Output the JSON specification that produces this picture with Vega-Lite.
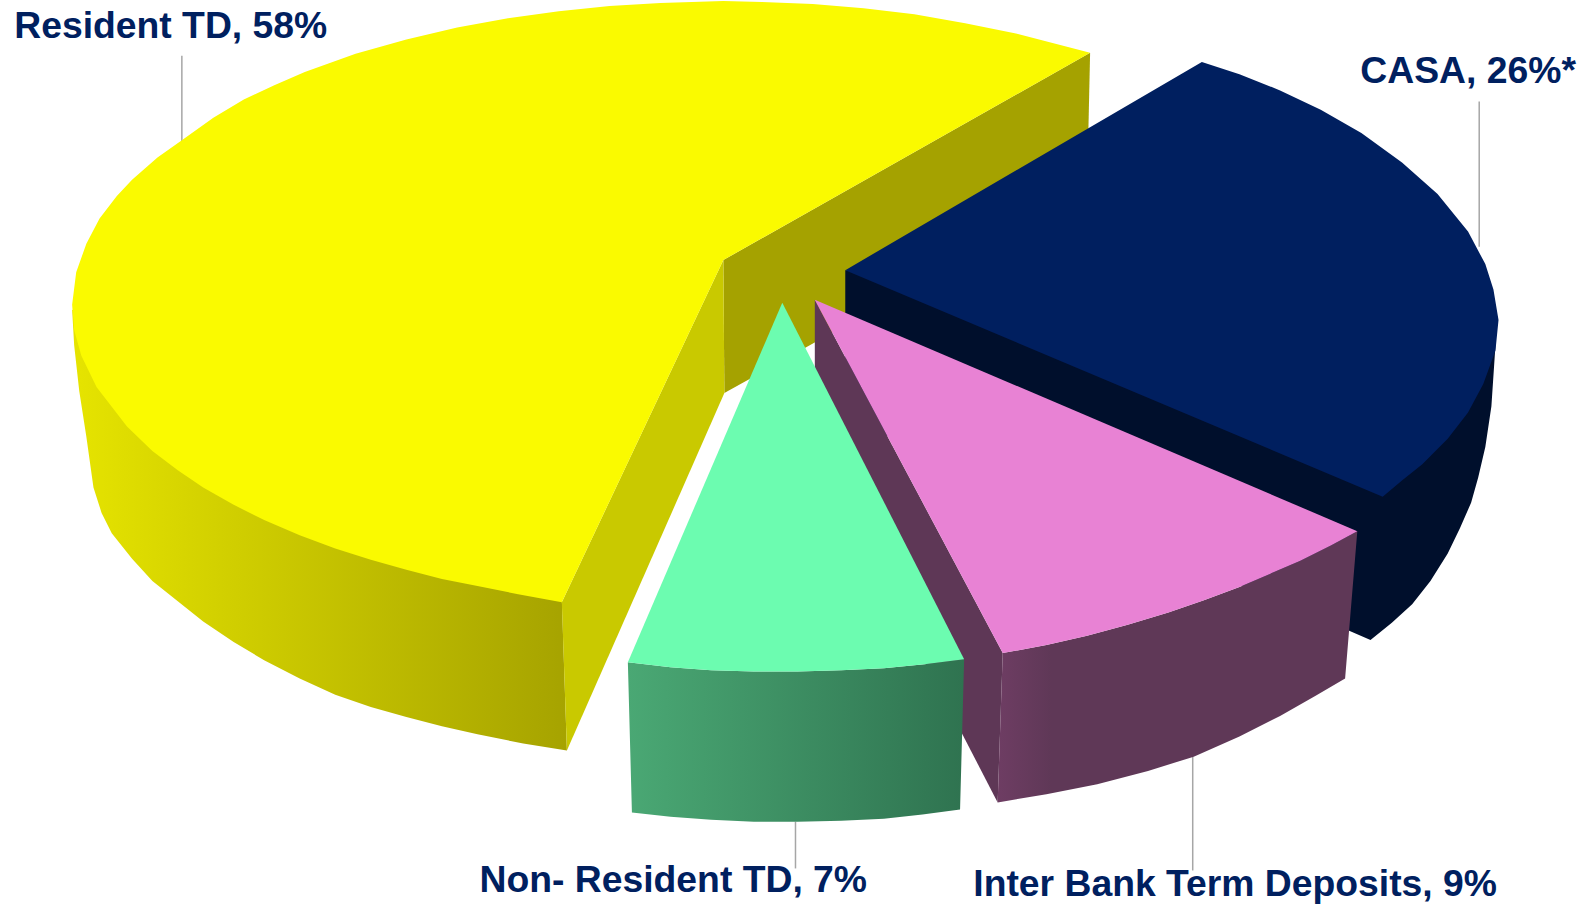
{"$schema":"https://vega.github.io/schema/vega-lite/v6.json","width":1593,"height":905,"padding":0,"autosize":{"type":"fit","contains":"padding"},"background":"white","config":{"view":{"stroke":null}},
"datasets":{"faces":[
{"f":"ywall","i":1,"x":71,"y":305},{"f":"ywall","i":2,"x":73,"y":340},{"f":"ywall","i":3,"x":78,"y":385},{"f":"ywall","i":4,"x":85,"y":430},{"f":"ywall","i":5,"x":92,"y":480},{"f":"ywall","i":6,"x":100,"y":505},{"f":"ywall","i":7,"x":110,"y":525},{"f":"ywall","i":8,"x":130,"y":550},{"f":"ywall","i":9,"x":150,"y":572},{"f":"ywall","i":10,"x":175,"y":592},{"f":"ywall","i":11,"x":200,"y":612},{"f":"ywall","i":12,"x":230,"y":632},{"f":"ywall","i":13,"x":260,"y":650},{"f":"ywall","i":14,"x":295,"y":668},{"f":"ywall","i":15,"x":330,"y":684},{"f":"ywall","i":16,"x":365,"y":696},{"f":"ywall","i":17,"x":400,"y":706},{"f":"ywall","i":18,"x":435,"y":715},{"f":"ywall","i":19,"x":470,"y":723},{"f":"ywall","i":20,"x":515,"y":732},{"f":"ywall","i":21,"x":558,"y":739},{"f":"ywall","i":22,"x":553,"y":590},{"f":"ywall","i":23,"x":300,"y":400},
{"f":"ycut1","i":1,"x":712,"y":256},{"f":"ycut1","i":2,"x":1073,"y":52},{"f":"ycut1","i":3,"x":1070,"y":187},{"f":"ycut1","i":4,"x":713,"y":387},
{"f":"ycut2","i":1,"x":712,"y":256},{"f":"ycut2","i":2,"x":553,"y":593},{"f":"ycut2","i":3,"x":558,"y":739},{"f":"ycut2","i":4,"x":713,"y":387},
{"f":"ytop","i":1,"x":712,"y":256},{"f":"ytop","i":2,"x":1073,"y":52},{"f":"ytop","i":3,"x":1000,"y":33},{"f":"ytop","i":4,"x":950,"y":23},{"f":"ytop","i":5,"x":900,"y":14},{"f":"ytop","i":6,"x":850,"y":8},{"f":"ytop","i":7,"x":800,"y":4},{"f":"ytop","i":8,"x":750,"y":2},{"f":"ytop","i":9,"x":712,"y":1},{"f":"ytop","i":10,"x":650,"y":3},{"f":"ytop","i":11,"x":600,"y":6},{"f":"ytop","i":12,"x":550,"y":11},{"f":"ytop","i":13,"x":500,"y":18},{"f":"ytop","i":14,"x":450,"y":27},{"f":"ytop","i":15,"x":400,"y":39},{"f":"ytop","i":16,"x":350,"y":53},{"f":"ytop","i":17,"x":300,"y":71},{"f":"ytop","i":18,"x":270,"y":84},{"f":"ytop","i":19,"x":240,"y":98},{"f":"ytop","i":20,"x":210,"y":116},{"f":"ytop","i":21,"x":179,"y":138},{"f":"ytop","i":22,"x":155,"y":155},{"f":"ytop","i":23,"x":130,"y":177},{"f":"ytop","i":24,"x":115,"y":193},{"f":"ytop","i":25,"x":98,"y":215},{"f":"ytop","i":26,"x":85,"y":240},{"f":"ytop","i":27,"x":75,"y":268},{"f":"ytop","i":28,"x":71,"y":300},{"f":"ytop","i":29,"x":73,"y":325},{"f":"ytop","i":30,"x":80,"y":350},{"f":"ytop","i":31,"x":95,"y":381},{"f":"ytop","i":32,"x":125,"y":420},{"f":"ytop","i":33,"x":150,"y":444},{"f":"ytop","i":34,"x":175,"y":463},{"f":"ytop","i":35,"x":200,"y":480},{"f":"ytop","i":36,"x":230,"y":497},{"f":"ytop","i":37,"x":260,"y":512},{"f":"ytop","i":38,"x":295,"y":527},{"f":"ytop","i":39,"x":330,"y":540},{"f":"ytop","i":40,"x":365,"y":551},{"f":"ytop","i":41,"x":400,"y":561},{"f":"ytop","i":42,"x":435,"y":570},{"f":"ytop","i":43,"x":470,"y":577},{"f":"ytop","i":44,"x":510,"y":585},{"f":"ytop","i":45,"x":553,"y":593},
{"f":"nwall","i":1,"x":832,"y":266},{"f":"nwall","i":2,"x":1472,"y":340},{"f":"nwall","i":3,"x":1468,"y":400},{"f":"nwall","i":4,"x":1462,"y":440},{"f":"nwall","i":5,"x":1455,"y":470},{"f":"nwall","i":6,"x":1448,"y":495},{"f":"nwall","i":7,"x":1437,"y":520},{"f":"nwall","i":8,"x":1425,"y":545},{"f":"nwall","i":9,"x":1408,"y":572},{"f":"nwall","i":10,"x":1390,"y":595},{"f":"nwall","i":11,"x":1370,"y":613},{"f":"nwall","i":12,"x":1349,"y":630},{"f":"nwall","i":13,"x":1328,"y":621},{"f":"nwall","i":14,"x":832,"y":412},
{"f":"ntop","i":1,"x":832,"y":266},{"f":"ntop","i":2,"x":1183,"y":61},{"f":"ntop","i":3,"x":1220,"y":73},{"f":"ntop","i":4,"x":1260,"y":89},{"f":"ntop","i":5,"x":1300,"y":108},{"f":"ntop","i":6,"x":1340,"y":131},{"f":"ntop","i":7,"x":1380,"y":160},{"f":"ntop","i":8,"x":1415,"y":191},{"f":"ntop","i":9,"x":1445,"y":228},{"f":"ntop","i":10,"x":1462,"y":260},{"f":"ntop","i":11,"x":1470,"y":285},{"f":"ntop","i":12,"x":1475,"y":315},{"f":"ntop","i":13,"x":1472,"y":345},{"f":"ntop","i":14,"x":1460,"y":378},{"f":"ntop","i":15,"x":1445,"y":406},{"f":"ntop","i":16,"x":1425,"y":432},{"f":"ntop","i":17,"x":1400,"y":457},{"f":"ntop","i":18,"x":1380,"y":473},{"f":"ntop","i":19,"x":1361,"y":489},
{"f":"pcut","i":1,"x":802,"y":295},{"f":"pcut","i":2,"x":987,"y":643},{"f":"pcut","i":3,"x":982,"y":790},{"f":"pcut","i":4,"x":802,"y":442},
{"f":"pwall","i":1,"x":987,"y":643},{"f":"pwall","i":2,"x":1030,"y":635},{"f":"pwall","i":3,"x":1070,"y":626},{"f":"pwall","i":4,"x":1110,"y":615},{"f":"pwall","i":5,"x":1150,"y":603},{"f":"pwall","i":6,"x":1185,"y":591},{"f":"pwall","i":7,"x":1220,"y":578},{"f":"pwall","i":8,"x":1250,"y":565},{"f":"pwall","i":9,"x":1280,"y":552},{"f":"pwall","i":10,"x":1310,"y":537},{"f":"pwall","i":11,"x":1336,"y":523},{"f":"pwall","i":12,"x":1324,"y":668},{"f":"pwall","i":13,"x":1295,"y":685},{"f":"pwall","i":14,"x":1260,"y":705},{"f":"pwall","i":15,"x":1220,"y":725},{"f":"pwall","i":16,"x":1175,"y":745},{"f":"pwall","i":17,"x":1130,"y":759},{"f":"pwall","i":18,"x":1080,"y":772},{"f":"pwall","i":19,"x":1030,"y":782},{"f":"pwall","i":20,"x":982,"y":790},
{"f":"ptop","i":1,"x":802,"y":295},{"f":"ptop","i":2,"x":1336,"y":523},{"f":"ptop","i":3,"x":1310,"y":537},{"f":"ptop","i":4,"x":1280,"y":552},{"f":"ptop","i":5,"x":1250,"y":565},{"f":"ptop","i":6,"x":1220,"y":578},{"f":"ptop","i":7,"x":1185,"y":591},{"f":"ptop","i":8,"x":1150,"y":603},{"f":"ptop","i":9,"x":1110,"y":615},{"f":"ptop","i":10,"x":1070,"y":626},{"f":"ptop","i":11,"x":1030,"y":635},{"f":"ptop","i":12,"x":987,"y":643},
{"f":"gwall","i":1,"x":618,"y":652},{"f":"gwall","i":2,"x":622,"y":800},{"f":"gwall","i":3,"x":660,"y":804},{"f":"gwall","i":4,"x":700,"y":807},{"f":"gwall","i":5,"x":742,"y":809},{"f":"gwall","i":6,"x":785,"y":809},{"f":"gwall","i":7,"x":828,"y":808},{"f":"gwall","i":8,"x":870,"y":806},{"f":"gwall","i":9,"x":908,"y":802},{"f":"gwall","i":10,"x":945,"y":797},{"f":"gwall","i":11,"x":949,"y":649},{"f":"gwall","i":12,"x":910,"y":654},{"f":"gwall","i":13,"x":870,"y":658},{"f":"gwall","i":14,"x":828,"y":660},{"f":"gwall","i":15,"x":785,"y":661},{"f":"gwall","i":16,"x":742,"y":661},{"f":"gwall","i":17,"x":700,"y":660},{"f":"gwall","i":18,"x":660,"y":657},
{"f":"gtop","i":1,"x":770,"y":298},{"f":"gtop","i":2,"x":618,"y":652},{"f":"gtop","i":3,"x":660,"y":657},{"f":"gtop","i":4,"x":700,"y":660},{"f":"gtop","i":5,"x":742,"y":661},{"f":"gtop","i":6,"x":785,"y":661},{"f":"gtop","i":7,"x":828,"y":660},{"f":"gtop","i":8,"x":870,"y":658},{"f":"gtop","i":9,"x":910,"y":654},{"f":"gtop","i":10,"x":949,"y":649}
],
"leaders":[{"x":179,"y":55,"y2":140},{"x":1456,"y":100,"y2":243},{"x":783,"y":809,"y2":855},{"x":1174,"y":745,"y2":857}],
"labels":[{"x":14,"y":37,"t":"Resident TD, 58%"},{"x":1339,"y":82,"t":"CASA, 26%*"},{"x":472,"y":878,"t":"Non- Resident TD, 7%"},{"x":958,"y":882,"t":"Inter Bank Term Deposits, 9%"}]},
"encoding":{"x":{"field":"x","type":"quantitative","scale":{"domain":[0,1568]},"axis":null},"y":{"field":"y","type":"quantitative","scale":{"domain":[891,0]},"axis":null}},
"layer":[
{"data":{"name":"leaders"},"mark":{"type":"rule","color":"#a6a6a6","strokeWidth":1.5},"encoding":{"y2":{"field":"y2"}}},
{"data":{"name":"faces"},"transform":[{"filter":"datum.f=='ywall'"}],"mark":{"type":"line","stroke":null,"fill":{"gradient":"linear","x1":0,"x2":1,"y1":0,"y2":0,"stops":[{"offset":0,"color":"#e6e400"},{"offset":0.3,"color":"#d2d000"},{"offset":1,"color":"#a6a300"}]}},"encoding":{"order":{"field":"i","type":"quantitative"}}},
{"data":{"name":"faces"},"transform":[{"filter":"datum.f=='ycut1'"}],"mark":{"type":"line","stroke":null,"fill":"#a5a200"},"encoding":{"order":{"field":"i","type":"quantitative"}}},
{"data":{"name":"faces"},"transform":[{"filter":"datum.f=='ycut2'"}],"mark":{"type":"line","stroke":null,"fill":"#c9c900"},"encoding":{"order":{"field":"i","type":"quantitative"}}},
{"data":{"name":"faces"},"transform":[{"filter":"datum.f=='ytop'"}],"mark":{"type":"line","stroke":null,"fill":"#fafa00"},"encoding":{"order":{"field":"i","type":"quantitative"}}},
{"data":{"name":"faces"},"transform":[{"filter":"datum.f=='nwall'"}],"mark":{"type":"line","stroke":null,"fill":"#000f2c"},"encoding":{"order":{"field":"i","type":"quantitative"}}},
{"data":{"name":"faces"},"transform":[{"filter":"datum.f=='ntop'"}],"mark":{"type":"line","stroke":null,"fill":"#001f5f"},"encoding":{"order":{"field":"i","type":"quantitative"}}},
{"data":{"name":"faces"},"transform":[{"filter":"datum.f=='pcut'"}],"mark":{"type":"line","stroke":null,"fill":"#5e3756"},"encoding":{"order":{"field":"i","type":"quantitative"}}},
{"data":{"name":"faces"},"transform":[{"filter":"datum.f=='pwall'"}],"mark":{"type":"line","stroke":null,"fill":{"gradient":"linear","x1":0,"x2":1,"y1":0,"y2":0,"stops":[{"offset":0,"color":"#6e3d63"},{"offset":0.15,"color":"#5f3857"},{"offset":1,"color":"#5f3857"}]}},"encoding":{"order":{"field":"i","type":"quantitative"}}},
{"data":{"name":"faces"},"transform":[{"filter":"datum.f=='ptop'"}],"mark":{"type":"line","stroke":null,"fill":"#e882d4"},"encoding":{"order":{"field":"i","type":"quantitative"}}},
{"data":{"name":"faces"},"transform":[{"filter":"datum.f=='gwall'"}],"mark":{"type":"line","stroke":null,"fill":{"gradient":"linear","x1":0,"x2":1,"y1":0,"y2":0,"stops":[{"offset":0,"color":"#4aa874"},{"offset":1,"color":"#2f7350"}]}},"encoding":{"order":{"field":"i","type":"quantitative"}}},
{"data":{"name":"faces"},"transform":[{"filter":"datum.f=='gtop'"}],"mark":{"type":"line","stroke":null,"fill":"#6cfcb0"},"encoding":{"order":{"field":"i","type":"quantitative"}}},
{"data":{"name":"labels"},"mark":{"type":"text","align":"left","baseline":"alphabetic","font":"Liberation Sans","fontWeight":"bold","fontSize":37.3,"color":"#00205f"},"encoding":{"text":{"field":"t"}}}
]}
